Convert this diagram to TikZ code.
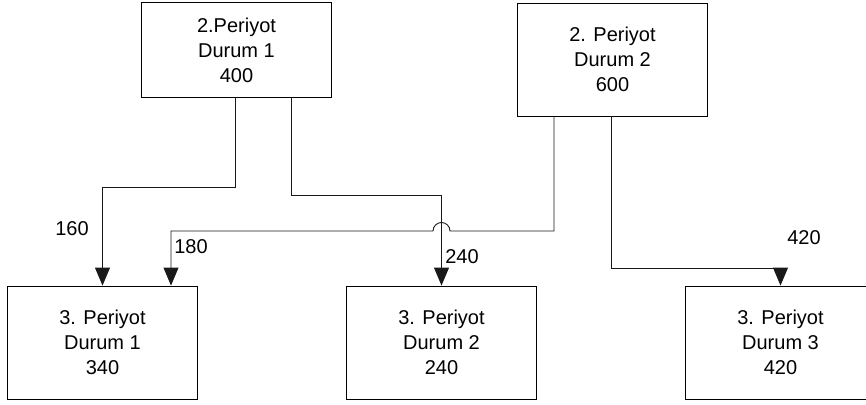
\documentclass[tikz,border=0pt]{standalone}
\usepackage{fontspec}
\setmainfont{Liberation Sans}
\usetikzlibrary{arrows.meta}
\begin{document}
\begin{tikzpicture}[x=1pt,y=-1pt,
		kutu/.style={draw, line width=0.9pt, minimum width=190pt, minimum height=#1, inner sep=0pt, align=center, font=\fontsize{20}{25}\selectfont},
		kutu/.default=113pt,
		etiket/.style={font=\fontsize{20}{25}\selectfont, inner sep=0pt},
		ok/.style={line width=0.9pt, black!90, -{Triangle[length=18pt,width=15pt]}}]
		\useasboundingbox (0,0) rectangle (866,404);
		\node[kutu=95pt] (a) at (236.5,50) {2.Periyot\\Durum 1\\400};
		\node[kutu] (b) at (612.5,59.5) {2. Periyot\\Durum 2\\600};
		\node[kutu] (c) at (102.5,342.5) {3. Periyot\\Durum 1\\340};
		\node[kutu] (d) at (441.5,342.5) {3. Periyot\\Durum 2\\240};
		\node[kutu] (e) at (780.5,342.5) {3. Periyot\\Durum 3\\420};
		\coordinate (y1) at (0,187);
		\coordinate (y2) at (0,195);
		\coordinate (hop) at (450,231);
		\coordinate (y4) at (0,268);
		\coordinate (c2) at ([xshift=68.5pt]c.north);
		\draw[ok] ([xshift=-1.5pt]a.south) -- ([xshift=-1.5pt]a.south |- y1) -| (c.north);
		\draw[ok] ([xshift=54.5pt]a.south) -- ([xshift=54.5pt]a.south |- y2) -| (d.north);
		\draw[ok] ([xshift=-58.5pt]b.south) |- (hop) arc[start angle=0, end angle=-180, radius=8.5] -- (c2 |- hop) -- (c2);
		\draw[ok] ([xshift=-1.5pt]b.south) -- ([xshift=-1.5pt]b.south |- y4) -| (e.north);
		\node[etiket] (l160) at (72,229) {160};
		\node[etiket] (l180) at (191,247) {180};
		\node[etiket] (l240) at (462,257) {240};
		\node[etiket] (l420) at (804,238) {420};
\end{tikzpicture}
\end{document}
